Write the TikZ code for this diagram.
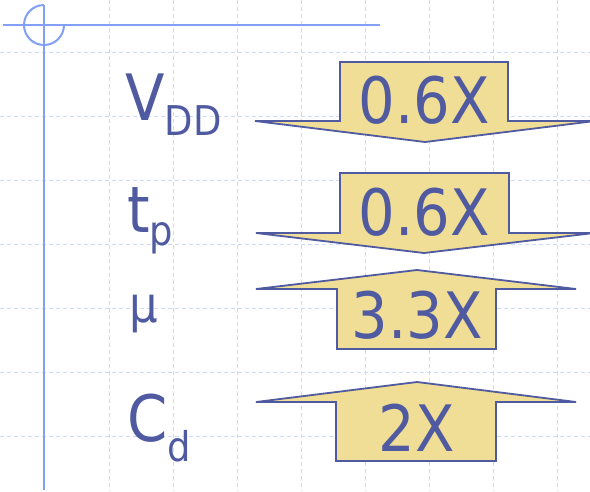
\documentclass[tikz,border=0pt]{standalone}
\usepackage{fontspec}
\newfontfamily\slidefont[FakeStretch=0.9]{DejaVu Sans}
\usepackage{xcolor}
\definecolor{SlideInk}{HTML}{4F5AA0}
\definecolor{SlideGold}{HTML}{F0DE96}
\definecolor{RuleBlue}{HTML}{82A0F5}
\definecolor{GridBlue}{HTML}{CCD9FA}
\newcommand{\slidesub}[2]{\raisebox{-#1}{\fontsize{41}{41}\selectfont #2}}
\tikzset{
  gridline/.style={
    draw=GridBlue, line width=0.8pt, dash pattern=on 4pt off 3pt
  },
  rule/.style={
    draw=RuleBlue, line width=2pt
  },
  blockarrow/.style={
    draw=SlideInk, fill=SlideGold, line width=1.8pt, line join=miter
  },
  symtext/.style={
    text=SlideInk, font=\slidefont\fontsize{64}{64}\selectfont,
    inner sep=0pt, anchor=base west
  },
  valtext/.style={
    text=SlideInk, font=\slidefont\fontsize{64}{64}\selectfont,
    inner sep=0pt, anchor=base
  }
}

\begin{document}
\begin{tikzpicture}[x=1pt, y=-1pt]

\useasboundingbox (0,0) rectangle (590,491);

% ── Background grid ───────────────────────────────────────────────────────────

\foreach \gx in {109,173,...,557}
  \draw[gridline] (\gx,0) -- (\gx,491);
\foreach \gy in {52,116,...,436}
  \draw[gridline] (0,\gy) -- (590,\gy);

% ── Slide rules and corner mark ───────────────────────────────────────────────

\coordinate (corner) at (44,25);
\draw[rule] (44,5) -- (44,490);
\draw[rule] (3,25) -- (380,25);
\draw[rule] (corner) ++(90:20pt) arc[start angle=90, end angle=360, radius=20pt];

% ── Block arrows (down: shrink, up: grow) ─────────────────────────────────────

\draw[blockarrow] (340,62) -- (508,62) -- (508,121) -- (595,121)
  -- (425,142) -- (255,121) -- (340,121) -- cycle;
\draw[blockarrow] (340,173) -- (509,173) -- (509,233) -- (594,233)
  -- (424,253) -- (256,233) -- (340,233) -- cycle;
\draw[blockarrow] (337,349) -- (496,349) -- (496,289) -- (576,289)
  -- (417,270) -- (256,289) -- (337,289) -- cycle;
\draw[blockarrow] (336,461) -- (496,461) -- (496,402) -- (576,402)
  -- (417,382) -- (256,402) -- (336,402) -- cycle;

% ── Quantities ────────────────────────────────────────────────────────────────

\node[symtext] (vdd) at (125,120) {V\slidesub{15pt}{DD}};
\node[symtext] (tp)  at (127,232) {t\slidesub{13pt}{p}};
\node[symtext, font=\slidefont\fontsize{50}{50}\selectfont] (mu) at (129,322) {μ};
\node[symtext] (cd)  at (127,441) {C\slidesub{20pt}{d}};

% ── Scaling factors ───────────────────────────────────────────────────────────

\node[valtext] (vddval) at (424,123) {0.6X};
\node[valtext] (tpval)  at (424,235) {0.6X};
\node[valtext] (muval)  at (417,338) {3.3X};
\node[valtext] (cdval)  at (417,451) {2X};

\end{tikzpicture}
\end{document}
